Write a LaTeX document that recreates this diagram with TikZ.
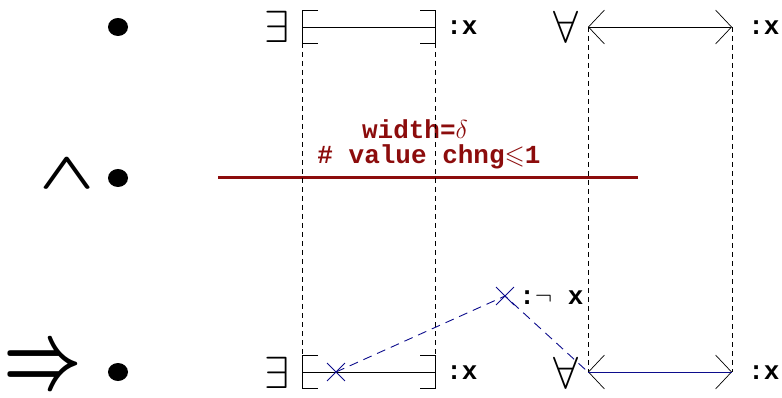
\RequirePackage{fix-cm}
\documentclass[tikz,border=0pt]{standalone}
\usepackage{amsmath,amssymb}
\usepackage{fontspec}
\setmonofont{Liberation Mono}
\usetikzlibrary{arrows.meta,shapes.misc}
\definecolor{darkred}{RGB}{140,12,12}
\definecolor{navy}{RGB}{12,12,140}

\begin{document}
\begin{tikzpicture}[x=1pt, y=-1pt, line width=0.7pt,
    lbl/.style={font=\ttfamily\bfseries\fontsize{26}{28}\selectfont, inner sep=0pt, anchor=west},
    redlbl/.style={lbl, darkred, anchor=center, text height=0.62em, text depth=0.12em},
    quant/.style={font=\fontsize{45}{50}\selectfont, inner sep=0pt, anchor=base, text height=0.7em, text depth=0pt},
    conn/.style={font=\fontsize{72}{76}\selectfont\boldmath, inner sep=0pt},
    guide/.style={dash pattern=on 5pt off 4pt, line width=0.6pt},
    trace/.style={navy, dash pattern=on 9pt off 6pt, line width=0.9pt},
    xmark/.style={cross out, draw=navy, line width=0.9pt, minimum size=17pt, inner sep=0pt},
    dbl/.style={{Straight Barb[length=16pt,width=34pt]}-{Straight Barb[length=16pt,width=34pt]}}]
    \useasboundingbox (0,0) rectangle (782,398);

    % Left column: bullets and connectives
    \fill (118,27) ellipse (10 and 9);
    \fill (118,178) ellipse (10 and 9);
    \fill (118,372) ellipse (10 and 9);
    \node[conn] (andsym) at (67,174) {\scalebox{1}[0.72]{$\wedge$}};
    \node[conn] (impsym) at (43,369) {\scalebox{0.95}[1.3]{$\Rightarrow$}};

    % Top row: exists and forall
    \node[quant] (exA) at (277,43) {$\exists$};
    \coordinate (bA1) at (302,27);
    \coordinate (bA2) at (435,27);
    \draw (318,10) -- (302,10) -- (302,43) -- (318,43);
    \draw (420,10) -- (435,10) -- (435,43) -- (420,43);
    \draw (bA1) -- (bA2);
    \node[lbl] (xA) at (446,28) {:x};
    \node[quant] (faA) at (566,43) {$\forall$};
    \coordinate (aA1) at (588,27);
    \coordinate (aA2) at (732,27);
    \draw[dbl] (aA1) -- (aA2);
    \node[lbl] (xB) at (748,28) {:x};

    % Middle row: the window
    \draw[darkred, line width=3pt] (218,178) -- (638,178);
    \node[redlbl] (wdt) at (415,136) {width=$\delta$};
    \node[redlbl] (chg) at (429,161) {\# value chng$\leqslant$1};

    % Bottom row
    \node[quant] (exB) at (277,388) {$\exists$};
    \coordinate (bB1) at (302,372);
    \coordinate (bB2) at (435,372);
    \draw (318,355) -- (302,355) -- (302,388) -- (318,388);
    \draw (420,355) -- (435,355) -- (435,388) -- (420,388);
    \draw (bB1) -- (bB2);
    \node[lbl] (xC) at (446,373) {:x};
    \node[quant] (faB) at (566,388) {$\forall$};
    \coordinate (aB1) at (588,372);
    \coordinate (aB2) at (732,372);
    \draw[dbl] (aB1) -- (aB2);
    \draw[navy] (aB1) -- (aB2);
    \node[lbl] (xD) at (748,373) {:x};

    % Vertical guides
    \draw[guide] (302,43) -- (302,355);
    \draw[guide] (435,43) -- (435,355);
    \draw[guide] (aA1) -- (aB1);
    \draw[guide] (aA2) -- (aB2);

    % Counterexample trace
    \node[xmark] (c1) at (336,372) {};
    \node[xmark] (c2) at (505,296) {};
    \node[lbl] (nx) at (519,298) {:$\neg$ x};
    \draw[trace] (c1.center) -- (c2.center) -- (aB1);
\end{tikzpicture}
\end{document}
